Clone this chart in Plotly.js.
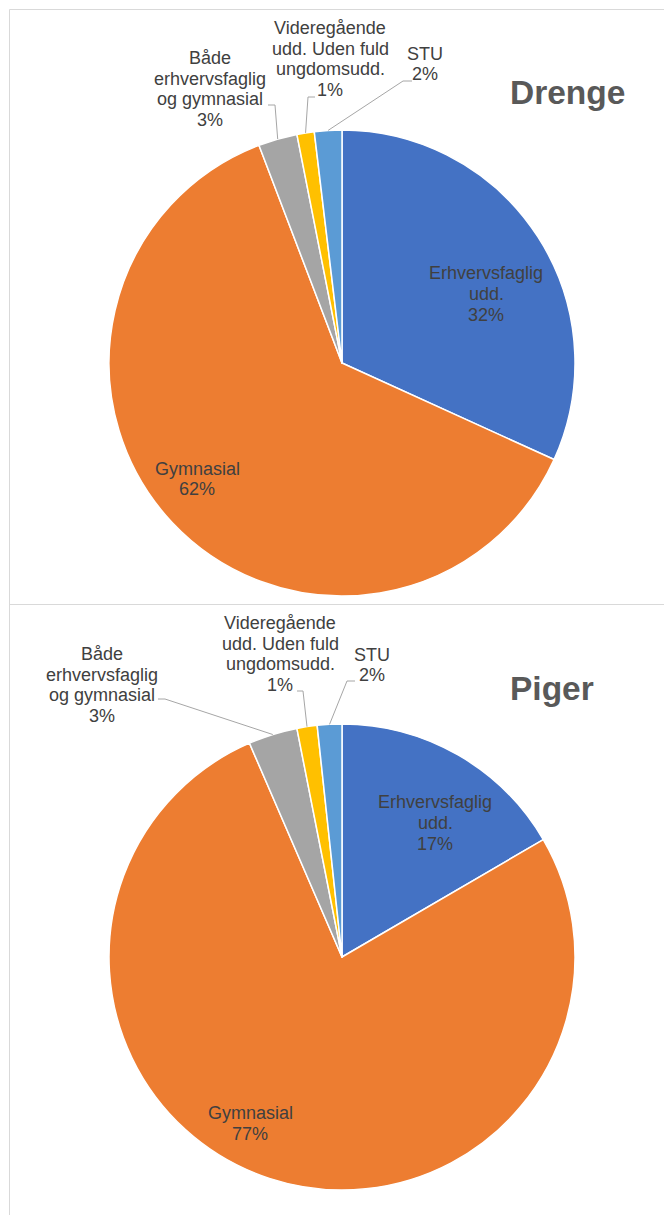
<!DOCTYPE html>
<html>
<head>
<meta charset="utf-8">
<script src="https://cdn.plot.ly/plotly-3.0.1.min.js"></script>
<style>
  html, body { margin: 0; padding: 0; background: #ffffff; }
  #chart { width: 664px; height: 1215px; }
</style>
</head>
<body>
<div id="chart"></div>
<script>
// ---------- DATA ----------
const categories = [
  'Erhvervsfaglig udd.',
  'Gymnasial',
  'Både erhvervsfaglig og gymnasial',
  'Videregående udd. Uden fuld ungdomsudd.',
  'STU'
];
const labelLines = [
  ['Erhvervsfaglig', 'udd.'],
  ['Gymnasial'],
  ['Både', 'erhvervsfaglig', 'og gymnasial'],
  ['Videregående', 'udd. Uden fuld', 'ungdomsudd.'],
  ['STU']
];
const panelTitles = ['Drenge', 'Piger'];
const drengeValues = [31.8, 62.4, 2.7, 1.2, 1.9];
const pigerValues  = [16.6, 76.9, 3.4, 1.4, 1.7];

// ---------- STYLE / LAYOUT ----------
const W = 664, H = 1215;
const colors = ['#4472C4', '#ED7D31', '#A5A5A5', '#FFC000', '#5B9BD5'];
const textColor = '#404040';
const titleColor = '#595959';
const leaderColor = '#A6A6A6';
const borderColor = '#D9D9D9';
const fontFamily = 'Liberation Sans, Arial, sans-serif';
const labelSize = 18;
const lineStep = 20.7;

// label block centres and leader geometry, relative to the pie centre (pixels)
const panels = [
  {
    title: panelTitles[0], values: drengeValues,
    cx: 342, cy: 363, r: 233, titlePos: [508, 93],
    blocks: [[144, -69], [-145, 116], [-132, -274], [-12, -304], [83, -299]],
    leaders: [null, null,
      [[-74, -258], [-67, -258]],
      [[-27, -266], [-34, -266]],
      [[70, -282], [61, -282]]]
  },
  {
    title: panelTitles[1], values: pigerValues,
    cx: 342, cy: 957, r: 233, titlePos: [508, 688],
    blocks: [[93, -134], [-92, 166.5], [-240, -272], [-62, -303], [30, -292]],
    leaders: [null, null,
      [[-184, -258], [-177, -258]],
      [[-45, -266], [-39, -266]],
      [[13, -276], [5, -276]]]
  }
];

const px = x => x / W;
const py = y => 1 - y / H;

const data = [];
const annotations = [];
const shapes = [];

// panel borders
shapes.push({type: 'line', xref: 'paper', yref: 'paper', x0: px(9.5), x1: 1, y0: py(9.5), y1: py(9.5), line: {color: borderColor, width: 1}});
shapes.push({type: 'line', xref: 'paper', yref: 'paper', x0: px(9.5), x1: px(9.5), y0: py(9.5), y1: 0, line: {color: borderColor, width: 1}});
shapes.push({type: 'line', xref: 'paper', yref: 'paper', x0: px(9.5), x1: 1, y0: py(604.5), y1: py(604.5), line: {color: borderColor, width: 1}});

panels.forEach(p => {
  const total = p.values.reduce((a, b) => a + b, 0);
  data.push({
    type: 'pie',
    values: p.values,
    labels: categories,
    sort: false,
    direction: 'clockwise',
    rotation: 0,
    textinfo: 'none',
    hoverinfo: 'none',
    showlegend: false,
    marker: {colors: colors, line: {color: '#ffffff', width: 1.5}},
    domain: {
      x: [px(p.cx - p.r), px(p.cx + p.r)],
      y: [py(p.cy + p.r), py(p.cy - p.r)]
    }
  });

  // title
  annotations.push({
    xref: 'paper', yref: 'paper', x: px(p.titlePos[0]), y: py(p.titlePos[1]),
    xanchor: 'left', yanchor: 'middle', showarrow: false,
    text: '<b>' + p.title + '</b>',
    font: {family: fontFamily, size: 33.5, color: titleColor}
  });

  let cum = 0;
  p.values.forEach((v, i) => {
    const mid = (cum + v / 2) / total * 2 * Math.PI;
    cum += v;
    const pct = Math.round(v / total * 100) + '%';
    const lines = labelLines[i].concat([pct]);
    const bx = p.cx + p.blocks[i][0];
    const by = p.cy + p.blocks[i][1];
    const n = lines.length;
    lines.forEach((t, k) => {
      annotations.push({
        xref: 'paper', yref: 'paper',
        x: px(bx), y: py(by + (k - (n - 1) / 2) * lineStep),
        xanchor: 'center', yanchor: 'middle', showarrow: false,
        text: t,
        font: {family: fontFamily, size: labelSize, color: textColor}
      });
    });
    const ld = p.leaders[i];
    if (ld) {
      const ex = p.cx + p.r * Math.sin(mid);
      const ey = p.cy - p.r * Math.cos(mid);
      const sx = p.cx + ld[0][0], sy = p.cy + ld[0][1];
      const kx = p.cx + ld[1][0], ky = p.cy + ld[1][1];
      shapes.push({
        type: 'path', xref: 'paper', yref: 'paper',
        path: 'M ' + px(sx) + ' ' + py(sy) + ' L ' + px(kx) + ' ' + py(ky) + ' L ' + px(ex) + ' ' + py(ey),
        line: {color: leaderColor, width: 1}
      });
    }
  });
});

const layout = {
  width: W, height: H,
  margin: {l: 0, r: 0, t: 0, b: 0},
  paper_bgcolor: '#ffffff',
  plot_bgcolor: '#ffffff',
  showlegend: false,
  annotations: annotations,
  shapes: shapes
};

Plotly.newPlot('chart', data, layout, {displayModeBar: false, staticPlot: true});
</script>
</body>
</html>
